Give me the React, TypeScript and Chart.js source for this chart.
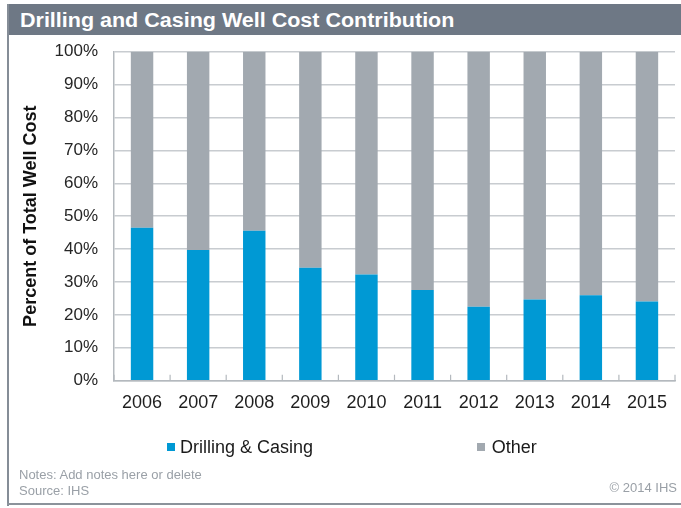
import React, { useEffect, useRef } from "react";
import { Chart, registerables } from "chart.js";

Chart.register(...registerables);

const years = ["2006", "2007", "2008", "2009", "2010", "2011", "2012", "2013", "2014", "2015"];
const drillingCasing = [46.5, 39.7, 45.6, 34.3, 32.3, 27.6, 22.5, 24.7, 26.0, 24.1];
const other = [53.5, 60.3, 54.4, 65.7, 67.7, 72.4, 77.5, 75.3, 74.0, 75.9];
const seriesNames = ["Drilling & Casing", "Other"];
const seriesColors = ["#0099d4", "#a2a9b0"];
const yMin = 0;
const yMax = 100;
const yStep = 10;

const FONT = "Arial, 'Liberation Sans', Helvetica, sans-serif";

const innerTicks = {
  id: "innerTicks",
  afterDatasetsDraw(chart: any) {
    const x = chart.scales.x;
    const area = chart.chartArea;
    const ctx = chart.ctx;
    const n = years.length;
    const step = x.getPixelForValue(1) - x.getPixelForValue(0);
    ctx.save();
    ctx.strokeStyle = "#b4b9be";
    ctx.lineWidth = 1.2;
    for (let i = 0; i <= n; i++) {
      const px = i < n ? x.getPixelForValue(i) - step / 2 : x.getPixelForValue(n - 1) + step / 2;
      ctx.beginPath();
      ctx.moveTo(px, area.bottom);
      ctx.lineTo(px, area.bottom - 6);
      ctx.stroke();
    }
    ctx.restore();
  },
};

export default function App() {
  const canvasRef = useRef<HTMLCanvasElement | null>(null);

  useEffect(() => {
    if (!canvasRef.current) return;
    const chart = new Chart(canvasRef.current, {
      type: "bar",
      data: {
        labels: years,
        datasets: [
          { label: seriesNames[0], data: drillingCasing, backgroundColor: seriesColors[0], borderWidth: 0 },
          { label: seriesNames[1], data: other, backgroundColor: seriesColors[1], borderWidth: 0 },
        ],
      },
      options: {
        responsive: false,
        animation: false,
        devicePixelRatio: 1,
        layout: { padding: { top: 51.7, right: 6, bottom: 0, left: 0 } },
        plugins: {
          legend: { display: false },
          title: { display: false },
          tooltip: { enabled: false },
        },
        datasets: { bar: { categoryPercentage: 1, barPercentage: 0.4 } },
        scales: {
          x: {
            stacked: true,
            grid: { display: false, drawTicks: false },
            border: { display: true, color: "#b4b9be", width: 1.5 },
            ticks: { color: "#1e1e1e", font: { family: FONT, size: 18 }, padding: 12, maxRotation: 0 },
            afterFit(scale: any) {
              scale.height = 508 - 380.7;
            },
          },
          y: {
            stacked: true,
            min: yMin,
            max: yMax,
            grid: { color: "#c8ccd0", lineWidth: 1.5, drawTicks: false },
            border: { display: true, color: "#b4b9be", width: 1.5 },
            ticks: {
              stepSize: yStep,
              color: "#262626",
              font: { family: FONT, size: 17 },
              padding: 16,
              callback: (v: any) => v + "%",
            },
            title: {
              display: true,
              text: "Percent of Total Well Cost",
              color: "#111111",
              font: { family: FONT, size: 18, weight: "bold" },
              padding: { top: 20, bottom: 0 },
            },
            afterFit(scale: any) {
              scale.width = 114;
            },
          },
        },
      },
      plugins: [innerTicks],
    });
    return () => chart.destroy();
  }, []);

  return (
    <div style={{ position: "absolute", left: 0, top: 0, width: 681, height: 508, background: "#ffffff", overflow: "hidden", fontFamily: FONT }}>
      <div style={{ position: "absolute", left: 7, top: 4, width: 674, height: 31, background: "#6e7885" }} />
      <div style={{ position: "absolute", left: 7, top: 4, width: 2, height: 502, background: "#858d97" }} />
      <div style={{ position: "absolute", left: 7, top: 503, width: 674, height: 2, background: "#8c939b" }} />
      <div style={{ position: "absolute", left: 20, top: 10.4, fontSize: 20, lineHeight: "20px", fontWeight: "bold", color: "#ffffff", whiteSpace: "nowrap", transform: "scaleX(1.075)", transformOrigin: "left center" }}>
        Drilling and Casing Well Cost Contribution
      </div>
      <canvas ref={canvasRef} width={681} height={508} style={{ position: "absolute", left: 0, top: 0, width: 681, height: 508 }} />
      {[0, 1].map((i) => (
        <div key={i} style={{ position: "absolute", left: i === 0 ? 167 : 477, top: 438, height: 18, whiteSpace: "nowrap" }}>
          <span style={{ position: "absolute", left: 0, top: 5, width: 8, height: 8, background: seriesColors[i] }} />
          <span style={{ position: "absolute", left: i === 0 ? 13 : 14.7, top: 0, fontSize: 18, lineHeight: "18px", color: "#1a1a1a" }}>{seriesNames[i]}</span>
        </div>
      ))}
      <div style={{ position: "absolute", left: 19, top: 466.7, fontSize: 13, lineHeight: "16px", color: "#9aa0a7", whiteSpace: "nowrap" }}>
        Notes: Add notes here or delete
        <br />
        Source: IHS
      </div>
      <div style={{ position: "absolute", right: 4, top: 480.4, fontSize: 13, lineHeight: "16px", color: "#9aa0a7", whiteSpace: "nowrap" }}>
        © 2014 IHS
      </div>
    </div>
  );
}
